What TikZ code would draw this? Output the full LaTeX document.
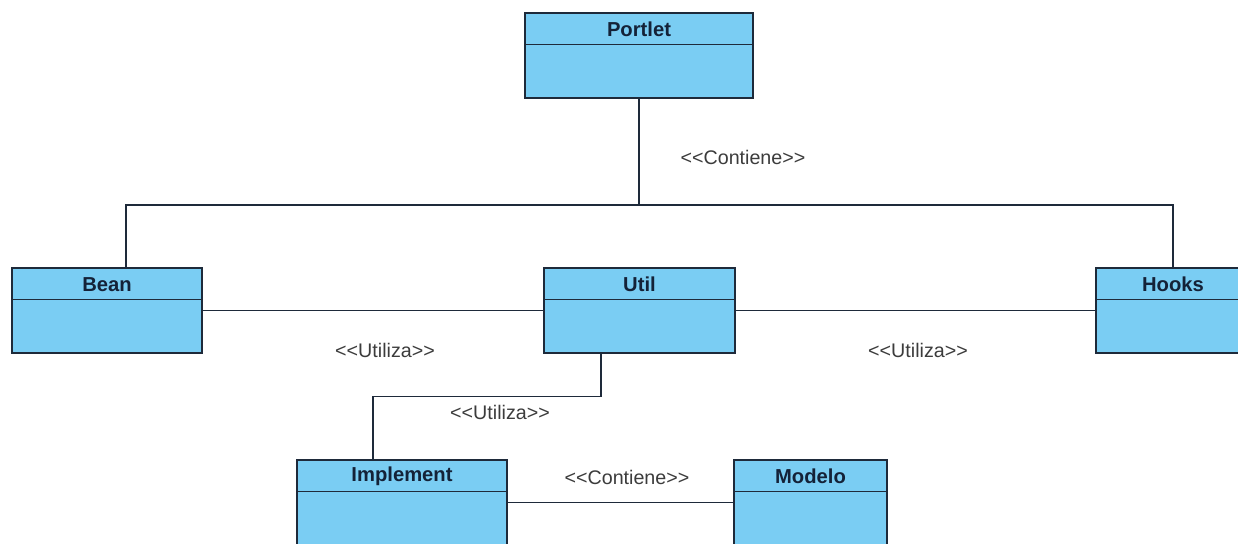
\documentclass[tikz,border=0pt]{standalone}
\usepackage{fontspec}
\setmainfont{Liberation Sans}[Ligatures=TeXOff]
\usepackage{tikz}
\usetikzlibrary{positioning}

\definecolor{celeste}{RGB}{122,205,243}
\definecolor{borde}{RGB}{30,42,58}
\definecolor{tinta}{RGB}{20,34,56}
\definecolor{gris}{RGB}{60,60,60}

\tikzset{
    clase/.style={draw=borde, fill=celeste, line width=0.8pt, rectangle, minimum height=1.7cm, inner sep=0pt},
    titulo/.style={font=\fontsize{11.5}{13}\selectfont\bfseries, text=tinta, inner sep=0pt},
    rel/.style={draw=borde, line width=0.8pt},
    estereo/.style={font=\fontsize{11.2}{13}\selectfont, text=gris, inner sep=1pt}
}

\begin{document}
\begin{tikzpicture}
        \useasboundingbox (0,0) rectangle (24.76,-10.88);

        % Classes
        \node[clase, minimum width=4.56cm] (portlet) at (12.78,-1.11) {};
        \node[clase, minimum width=3.80cm] (bean) at (2.14,-6.21) {};
        \node[clase, minimum width=3.82cm] (util) at (12.79,-6.21) {};
        \node[clase, minimum width=3.08cm] (hooks) at (23.46,-6.21) {};
        \node[clase, minimum width=4.20cm] (implement) at (8.04,-10.05) {};
        \node[clase, minimum width=3.06cm] (modelo) at (16.21,-10.05) {};

        % Headers
        \foreach \c in {portlet, bean, util, hooks, implement, modelo}
            \draw[borde, line width=0.8pt] ([yshift=-0.64cm]\c.north west) -- ([yshift=-0.64cm]\c.north east);

        % Class names
        \node[titulo, below=0.34cm of portlet.north, anchor=center] (portletT) {Portlet};
        \node[titulo, below=0.34cm of bean.north, anchor=center] (beanT) {Bean};
        \node[titulo, below=0.34cm of util.north, anchor=center] (utilT) {Util};
        \node[titulo, below=0.34cm of hooks.north, anchor=center] (hooksT) {Hooks};
        \node[titulo, below=0.34cm of implement.north, anchor=center] (implementT) {Implement};
        \node[titulo, below=0.34cm of modelo.north, anchor=center] (modeloT) {Modelo};

        % Relationships
        \coordinate (union) at (12.78,-4.10);
        \draw[rel] (portlet.south) -- (union);
        \draw[rel] ([xshift=0.38cm]bean.north) |- (union) -| (hooks.north);
        \draw[rel] (bean.east) -- (util.west);
        \draw[rel] (util.east) -- (hooks.west);
        \draw[rel] ([xshift=-0.77cm]util.south) -- ++(0,-0.86) -| ([xshift=-0.58cm]implement.north);
        \draw[rel] (implement.east) -- (modelo.west);

        % Stereotypes
        \node[estereo] (c1) at (14.86,-3.14) {<<Contiene>>};
        \node[estereo] (u1) at (7.70,-7.00) {<<Utiliza>>};
        \node[estereo] (u2) at (18.36,-7.00) {<<Utiliza>>};
        \node[estereo] (u3) at (10.00,-8.24) {<<Utiliza>>};
        \node[estereo] (c2) at (12.54,-9.54) {<<Contiene>>};
    \end{tikzpicture}
\end{document}
